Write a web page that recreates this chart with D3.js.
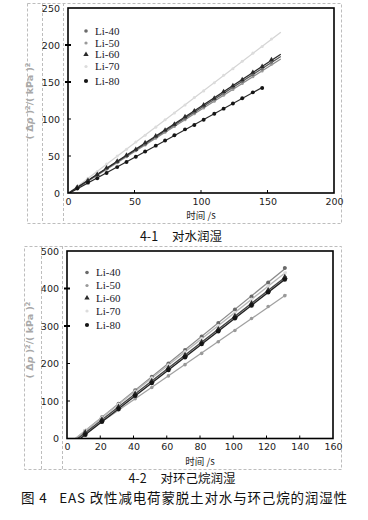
<!DOCTYPE html>
<html><head><meta charset="utf-8">
<script src="https://cdn.jsdelivr.net/npm/d3@7"></script>
<style>
html,body{margin:0;padding:0;background:#fff;}
svg{display:block;}
</style></head>
<body>
<svg id="c" width="368" height="520"></svg>
<script>
// ---------- DATA ----------
const seriesNames = ["Li-40","Li-50","Li-60","Li-70","Li-80"];

// Chart 4-1 (water)
const waterTime = [7,15,22,29,37,44,51,58,66,73,80,88,95,102,110,117,124,131,139,146,153];
const waterLi40 = [8,17,25,33,42,50,58,66,76,84,92,101,109,117,127,135,143,151,160,168,177];
const waterLi50 = [7,16,24,32,41,49,57,65,74,82,90,99,107,115,124,132,140,148,157,165,174];
const waterLi60 = [8,17,25,34,43,51,59,68,77,85,93,103,111,119,128,137,145,153,163,171,180];
const waterLi70 = [9,20,29,39,50,59,69,78,89,99,108,119,129,138,149,159,168,178,189,198,208];
const waterLi80 = [6,14,20,27,35,42,49,56,64,71,78,86,92,99,107,114,121,128,136,142];
const waterXTicks = [0,50,100,150,200];
const waterYTicks = [0,50,100,150,200,250];

// Chart 4-2 (cyclohexane)
const cycloTime = [11,21,31,41,51,61,71,81,91,101,111,121,131];
const cycloLi40 = [21,57,93,129,165,200,236,272,308,344,379,416,455];
const cycloLi50 = [15,45,76,106,136,167,197,227,258,288,320,352,381];
const cycloLi60 = [16,50,84,119,153,188,222,257,291,326,360,395,430];
const cycloLi70 = [21,56,91,126,161,196,231,266,301,336,371,406,441];
const cycloLi80 = [10,45,79,114,148,183,217,252,286,321,355,390,424];
const cycloXTicks = [0,20,40,60,80,100,120,140,160];
const cycloYTicks = [0,100,200,300,400,500];

// ---------- STYLE ----------
const markerStyle = {
  "Li-40": {type:"circle", r:2.0, fill:"#6a6a6a"},
  "Li-50": {type:"circle", r:1.8, fill:"#9a9a9a"},
  "Li-60": {type:"triangle", r:2.2, fill:"#2a2a2a"},
  "Li-70": {type:"circle", r:1.8, fill:"#dcdcdc"},
  "Li-80": {type:"circle", r:2.3, fill:"#151515"}
};

const svg = d3.select("#c");
const NB = "\u00A0";

function fit(xs, ys){
  const n = ys.length;
  const mx = d3.mean(xs.slice(0,n)), my = d3.mean(ys);
  let sxy=0, sxx=0;
  for(let i=0;i<n;i++){ sxy += (xs[i]-mx)*(ys[i]-my); sxx += (xs[i]-mx)*(xs[i]-mx); }
  const b = sxy/sxx; return {b, a: my - b*mx};
}

function drawMarker(g, type, x, y, r, fill){
  if(type==="triangle"){
    g.append("path").attr("d", d3.symbol(d3.symbolTriangle, r*r*3.2)())
      .attr("transform",`translate(${x},${y})`).attr("fill",fill);
  } else {
    g.append("circle").attr("cx",x).attr("cy",y).attr("r",r).attr("fill",fill);
  }
}

function drawChart(cfg){
  const g = svg.append("g");
  g.append("rect").attr("x",cfg.frame[0]+0.5).attr("y",cfg.frame[1]+0.5)
    .attr("width",cfg.frame[2]-cfg.frame[0]).attr("height",cfg.frame[3]-cfg.frame[1])
    .attr("fill","none").attr("stroke","#bdbdbd").attr("stroke-dasharray","3,2");
  cfg.vlines.forEach(v=>{
    g.append("line").attr("x1",v+0.5).attr("x2",v+0.5).attr("y1",cfg.frame[1]).attr("y2",cfg.frame[3])
      .attr("stroke","#bdbdbd").attr("stroke-dasharray","3,2");
  });

  const x = d3.scaleLinear().domain(cfg.xDomain).range([cfg.plot[0], cfg.plot[2]]);
  const y = d3.scaleLinear().domain(cfg.yDomain).range([cfg.plot[3], cfg.plot[1]]);

  const cid = "clip"+cfg.id;
  svg.append("clipPath").attr("id",cid).append("rect")
    .attr("x",cfg.plot[0]).attr("y",cfg.plot[1])
    .attr("width",cfg.plot[2]-cfg.plot[0]).attr("height",cfg.plot[3]-cfg.plot[1]);

  const dg = g.append("g").attr("clip-path",`url(#${cid})`);
  cfg.series.forEach(s=>{
    const f = fit(cfg.time, s.values);
    const x0 = Math.max(cfg.xDomain[0], -f.a/f.b);
    const x1 = cfg.time[s.values.length-1] + s.ext;
    const line = d3.line().x(d=>x(d)).y(d=>y(f.a+f.b*d));
    dg.append("path").attr("d", line([x0,x1])).attr("fill","none")
      .attr("stroke", s.lineColor).attr("stroke-width", s.lw);
  });
  cfg.series.forEach(s=>{
    const m = markerStyle[s.name];
    s.values.forEach((v,i)=> drawMarker(dg, m.type, x(cfg.time[i]), y(v), m.r*cfg.ms, m.fill));
  });

  g.append("rect").attr("x",cfg.plot[0]).attr("y",cfg.plot[1])
    .attr("width",cfg.plot[2]-cfg.plot[0]).attr("height",cfg.plot[3]-cfg.plot[1])
    .attr("fill","none").attr("stroke","#000").attr("stroke-width",1.6);

  const xa = g.append("g").attr("transform",`translate(0,${cfg.plot[3]})`)
    .call(d3.axisBottom(x).tickValues(cfg.xTicks).tickSize(0).tickPadding(5));
  xa.select(".domain").remove();
  xa.selectAll("text").attr("font-family","'DejaVu Sans', sans-serif").attr("font-size","9.5px").attr("fill","#222");
  cfg.xTicks.slice(1,-1).forEach(t=>{
    g.append("line").attr("x1",x(t)).attr("x2",x(t)).attr("y1",cfg.plot[3]).attr("y2",cfg.plot[3]-3)
      .attr("stroke","#000").attr("stroke-width",1);
  });
  const ya = g.append("g").attr("transform",`translate(${cfg.plot[0]},0)`)
    .call(d3.axisLeft(y).tickValues(cfg.yTicks).tickSize(0).tickPadding(8));
  ya.select(".domain").remove();
  ya.selectAll("text").attr("font-family","'DejaVu Sans', sans-serif").attr("font-size","9.5px").attr("fill","#222");
  cfg.yTicks.slice(1,-1).forEach(t=>{
    const big = cfg.bigTicks.includes(t);
    g.append("line").attr("x1",cfg.plot[0]-(big?3:0)).attr("x2",cfg.plot[0]+3).attr("y1",y(t)).attr("y2",y(t))
      .attr("stroke","#000").attr("stroke-width",big?2:1);
  });

  g.append("text").attr("x",(cfg.plot[0]+cfg.plot[2])/2).attr("y",cfg.xTitleY)
    .attr("text-anchor","middle").attr("font-family","'Noto Sans CJK SC', sans-serif")
    .attr("font-size","9.5px").attr("fill","#222").text("时间 /s");
  const yt = g.append("text").attr("transform",`translate(${cfg.yTitleX},${cfg.yTitleY}) rotate(-90)`)
    .attr("text-anchor","middle").attr("font-family","'DejaVu Sans', sans-serif")
    .attr("font-size","9.5px").attr("font-weight","bold").attr("fill","#a8a8a8");
  yt.append("tspan").text("( Δ");
  yt.append("tspan").attr("font-style","italic").text("p");
  yt.append("tspan").text(" )");
  yt.append("tspan").attr("dy",-3).attr("font-size","6.5px").text("2");
  yt.append("tspan").attr("dy",3).text("/( kPa )");
  yt.append("tspan").attr("dy",-3).attr("font-size","6.5px").text("2");

  seriesNames.forEach((n,i)=>{
    const ly = cfg.legendY[i];
    const m = markerStyle[n];
    drawMarker(g, m.type, cfg.legendX, ly, m.r*0.9, m.fill);
    g.append("text").attr("x",cfg.legendX+9).attr("y",ly+3.5)
      .attr("font-family","'Liberation Serif', serif").attr("font-size","11px")
      .attr("fill","#1a1a2a").text(n);
  });

  g.append("text").attr("x",cfg.capX).attr("y",cfg.capY).attr("text-anchor","middle")
    .attr("font-family","'Noto Sans CJK SC', sans-serif").attr("font-size","12.5px")
    .attr("fill","#111").text(cfg.caption);
}

drawChart({
  id:1, frame:[27,3,341,223], vlines:[42,63], plot:[68,8,334,193],
  xDomain:[0,200], yDomain:[0,250], xTicks:waterXTicks, yTicks:waterYTicks, bigTicks:[150,200],
  time:waterTime, ms:0.85,
  series:[
    {name:"Li-70", values:waterLi70, lineColor:"#d4d4d4", lw:1.3, ext:7},
    {name:"Li-50", values:waterLi50, lineColor:"#8a8a8a", lw:1.2, ext:7},
    {name:"Li-40", values:waterLi40, lineColor:"#555", lw:1.2, ext:7},
    {name:"Li-60", values:waterLi60, lineColor:"#2a2a2a", lw:1.3, ext:7},
    {name:"Li-80", values:waterLi80, lineColor:"#2a2a2a", lw:1.3, ext:0}
  ],
  xTitleY:219, yTitleX:33, yTitleY:101,
  legendX:86, legendY:[31,43,54.5,66.5,81],
  caption:"4-1"+NB+NB+NB+NB+NB+"对水润湿", capX:181, capY:241
});

drawChart({
  id:2, frame:[24,246,341,469], vlines:[41,62], plot:[67,251,333,438.5],
  xDomain:[0,160], yDomain:[0,500], xTicks:cycloXTicks, yTicks:cycloYTicks, bigTicks:[300,400],
  time:cycloTime, ms:1,
  series:[
    {name:"Li-50", values:cycloLi50, lineColor:"#a0a0a0", lw:1.2, ext:1},
    {name:"Li-40", values:cycloLi40, lineColor:"#8a8a8a", lw:1.3, ext:1},
    {name:"Li-70", values:cycloLi70, lineColor:"#b8b8b8", lw:1.3, ext:1},
    {name:"Li-60", values:cycloLi60, lineColor:"#444", lw:1.3, ext:1},
    {name:"Li-80", values:cycloLi80, lineColor:"#222", lw:1.3, ext:1}
  ],
  xTitleY:465, yTitleX:33, yTitleY:340,
  legendX:87, legendY:[272.5,285.5,298,311,325],
  caption:"4-2"+NB+NB+NB+NB+NB+"对环己烷润湿", capX:182, capY:482.5
});

svg.append("text").attr("x",184).attr("y",502.5).attr("text-anchor","middle")
  .attr("font-family","'Noto Sans CJK SC', sans-serif").attr("font-size","13.5px")
  .attr("fill","#111").attr("textLength",326).attr("lengthAdjust","spacing")
  .text("图 4"+NB+NB+NB+"EAS 改性减电荷蒙脱土对水与环己烷的润湿性");
</script>
</body></html>
